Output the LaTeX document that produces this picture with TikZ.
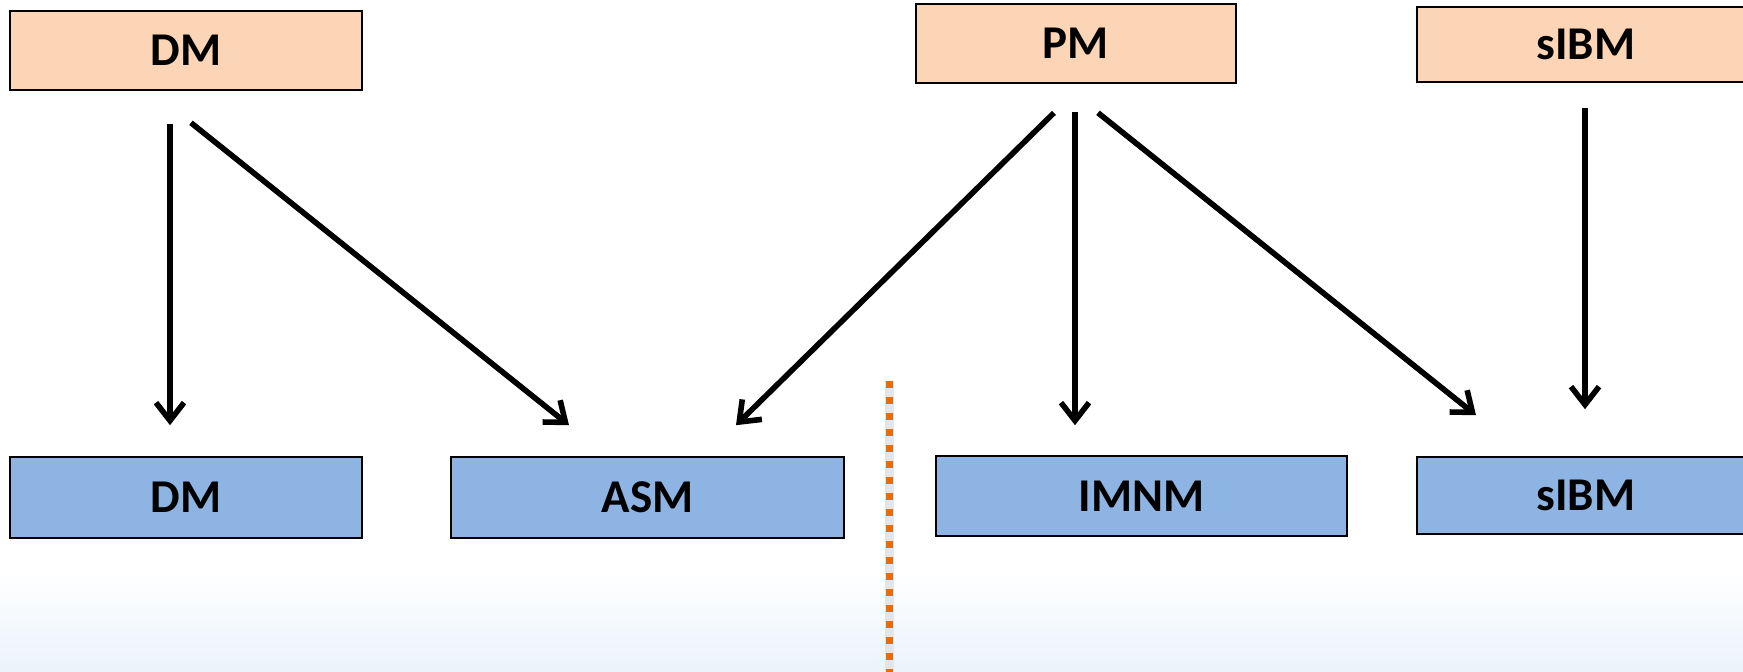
\documentclass[tikz,border=0pt]{standalone}
\usepackage{fontspec}
\setmainfont{Carlito}
\usetikzlibrary{arrows.meta,positioning,calc}
\definecolor{srcpeach}{HTML}{FBD5B5}
\definecolor{tgtblue}{HTML}{8EB4E3}
\definecolor{sepamber}{HTML}{E46C0A}
\definecolor{fadeblue}{HTML}{EBF3FB}
\tikzset{
  srcbox/.style={draw=black, line width=0.8pt, fill=srcpeach, inner sep=0pt, font=\fontsize{23.5}{28}\selectfont\bfseries},
  tgtbox/.style={draw=black, line width=0.8pt, fill=tgtblue, inner sep=0pt, font=\fontsize{23.5}{28}\selectfont\bfseries},
  arr/.style={-{Straight Barb[length=9pt,width=14pt]}, line width=2.8pt, color=black},
  sepline/.style={sepamber, line width=3.5pt, dash pattern=on 3.5pt off 4.5pt},
}
\begin{document}
\begin{tikzpicture}[x=0.5pt,y=-0.5pt]
      \useasboundingbox (0,0) rectangle (1743,672);
      \shade[top color=white, bottom color=fadeblue] (0,570) rectangle (1743,672);
      % source models
      \node[srcbox, minimum width=176pt, minimum height=39.5pt] (dmT) at (186,50.5) {DM};
      \node[srcbox, minimum width=160pt, minimum height=39.5pt] (pmT) at (1076,43.5) {PM};
      \node[srcbox, minimum width=169pt, minimum height=37.5pt] (sibmT) at (1586,44.5) {sIBM};
      % target models
      \node[tgtbox, minimum width=176pt, minimum height=40.5pt] (dmB) at (186,497.5) {DM};
      \node[tgtbox, minimum width=196.5pt, minimum height=40.5pt] (asmB) at (647.5,497.5) {ASM};
      \node[tgtbox, minimum width=205.5pt, minimum height=40pt] (imnmB) at (1141.5,496) {IMNM};
      \node[tgtbox, minimum width=169pt, minimum height=38.5pt] (sibmB) at (1586,495.5) {sIBM};
      % separator
      \draw[gray!20, line width=4.5pt] (889,381) -- (889,672);
      \draw[sepline] (889,381) -- (889,672);
      % mappings
      \draw[arr] ($(dmT.south)+(-16,33)$) -- ($(dmB.north)+(-16,-31)$);
      \draw[arr] ($(dmT.south)+(5,32)$) -- ($(asmB.north)+(-78.5,-31)$);
      \draw[arr] ($(pmT.south)+(-22,29)$) -- ($(asmB.north)+(88.5,-31)$);
      \draw[arr] ($(pmT.south)+(-1,28)$) -- ($(imnmB.north)+(-66.5,-30)$);
      \draw[arr] ($(pmT.south)+(22,29)$) -- ($(sibmB.north)+(-110,-41)$);
      \draw[arr] ($(sibmT.south)+(-1,25)$) -- ($(sibmB.north)+(-1,-47)$);
    \end{tikzpicture}
\end{document}
